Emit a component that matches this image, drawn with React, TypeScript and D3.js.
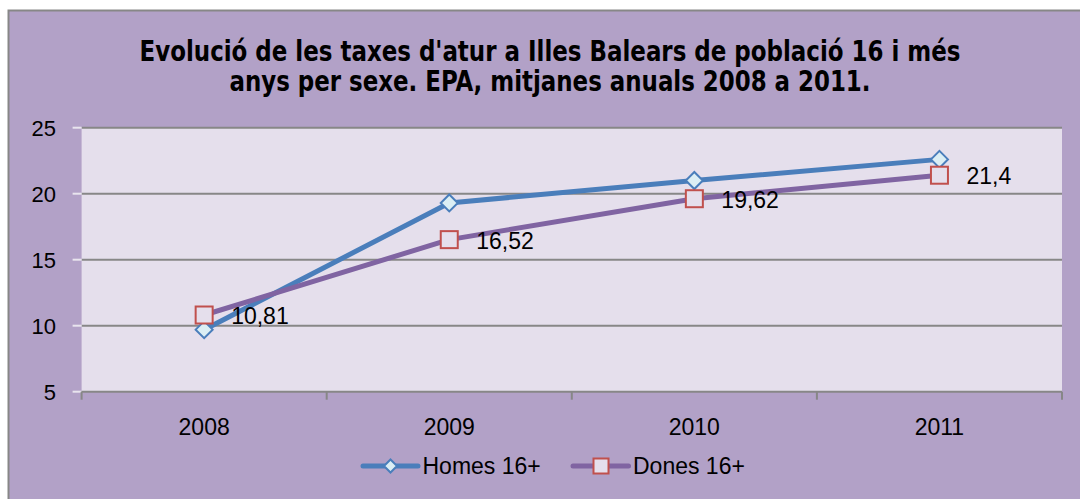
import { line, scaleBand, scaleLinear } from "d3"

const years = ["2008", "2009", "2010", "2011"]
const homes = [9.7, 19.3, 21.0, 22.6]
const dones = [10.81, 16.52, 19.62, 21.4]
const donesLabels = ["10,81", "16,52", "19,62", "21,4"]
const yTicks = [5, 10, 15, 20, 25]
const titleLines = [
    "Evolució de les taxes d'atur a Illes Balears de població 16 i més",
    "anys per sexe. EPA, mitjanes anuals 2008 a 2011.",
]
const seriesNames = ["Homes 16+", "Dones 16+"]

const W = 1080
const H = 499
const plot = { left: 81.6, right: 1062, top: 127.7, bottom: 391.7 }

const font = "'Liberation Sans', Arial, sans-serif"
const titleFont = "'Liberation Sans Narrow', 'DejaVu Sans Condensed', 'Liberation Sans', sans-serif"

const blue = "#4A7EBB"
const purple = "#8064A2"
const red = "#C0504D"
const diamondFill = "#DBEEF4"
const plotFill = "#E5DFEC"
const outerFill = "#B2A1C7"
const grid = "#878787"

const Diamond = ({ cx, cy, r }) => (
    <path
        d={`M${cx},${cy - r}L${cx + r},${cy}L${cx},${cy + r}L${cx - r},${cy}Z`}
        fill={diamondFill}
        stroke={blue}
        strokeWidth={2}
    />
)

const Square = ({ cx, cy, s }) => (
    <rect x={cx - s / 2} y={cy - s / 2} width={s} height={s} fill={plotFill} stroke={red} strokeWidth={2} />
)

export default function App() {
    const x = scaleBand().domain(years).range([plot.left, plot.right])
    const y = scaleLinear().domain([5, 25]).range([plot.bottom, plot.top])
    const cx = (yr) => x(yr) + x.bandwidth() / 2

    const path = line()
        .x((d, i) => cx(years[i]))
        .y((d) => y(d))

    const bounds = [...years.map((yr) => x(yr)), plot.right]

    return (
        <svg width={W} height={H} style={{ position: "absolute", left: 0, top: 0 }}>
            <rect x={0} y={0} width={W} height={H} fill="#fff" />
            <rect x={8.5} y={10.5} width={W + 20} height={H + 20} fill={outerFill} stroke={grid} strokeWidth={2} />

            {titleLines.map((t, i) => (
                <text
                    key={i}
                    x={550}
                    y={61 + i * 30}
                    textAnchor="middle"
                    fontFamily={titleFont}
                    fontWeight="bold"
                    fontSize={29}
                    textLength={i === 0 ? 821 : 641}
                    lengthAdjust="spacingAndGlyphs"
                    fill="#000"
                >
                    {t}
                </text>
            ))}

            <rect x={plot.left} y={plot.top} width={plot.right - plot.left} height={plot.bottom - plot.top} fill={plotFill} />

            {yTicks.map((t) => (
                <g key={t}>
                    {t > 5 && <line x1={plot.left} x2={plot.right} y1={y(t)} y2={y(t)} stroke={grid} strokeWidth={2} />}
                    <line x1={plot.left - 9} x2={plot.left} y1={y(t)} y2={y(t)} stroke="#e8e4ee" strokeWidth={2} />
                    <text x={56} y={y(t) + 7.8} textAnchor="end" fontFamily={font} fontSize={22} fill="#000">
                        {t}
                    </text>
                </g>
            ))}

            <line x1={plot.left} x2={plot.right} y1={plot.bottom} y2={plot.bottom} stroke={grid} strokeWidth={2} />
            {bounds.map((b, i) => (
                <line key={i} x1={b} x2={b} y1={plot.bottom} y2={plot.bottom + 8} stroke={grid} strokeWidth={2} />
            ))}
            {years.map((yr) => (
                <text key={yr} x={cx(yr)} y={435} textAnchor="middle" fontFamily={font} fontSize={23} fill="#000">
                    {yr}
                </text>
            ))}

            <path d={path(homes)} fill="none" stroke={blue} strokeWidth={5} strokeLinejoin="round" strokeLinecap="round" />
            {homes.map((v, i) => (
                <Diamond key={i} cx={cx(years[i])} cy={y(v)} r={8.5} />
            ))}

            <path d={path(dones)} fill="none" stroke={purple} strokeWidth={5} strokeLinejoin="round" strokeLinecap="round" />
            {dones.map((v, i) => (
                <g key={i}>
                    <Square cx={cx(years[i])} cy={y(v)} s={17} />
                    <text x={cx(years[i]) + 27} y={y(v) + 9} fontFamily={font} fontSize={23} fill="#000">
                        {donesLabels[i]}
                    </text>
                </g>
            ))}

            <g>
                <line x1={363} x2={418} y1={466} y2={466} stroke={blue} strokeWidth={5} strokeLinecap="round" />
                <Diamond cx={390.5} cy={466} r={6.5} />
                <text x={422.5} y={473.5} fontFamily={font} fontSize={23} fill="#000">
                    {seriesNames[0]}
                </text>
                <line x1={573} x2={628.5} y1={466} y2={466} stroke={purple} strokeWidth={5} strokeLinecap="round" />
                <Square cx={601} cy={466} s={15} />
                <text x={633} y={473.5} fontFamily={font} fontSize={23} fill="#000">
                    {seriesNames[1]}
                </text>
            </g>
        </svg>
    )
}
